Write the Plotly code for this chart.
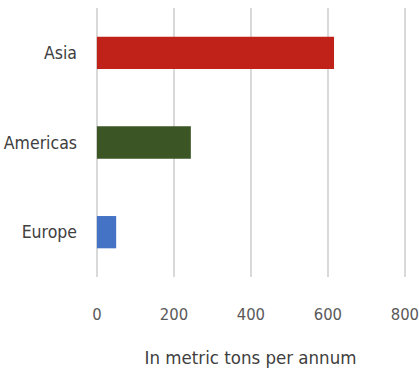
import plotly.graph_objects as go

regions = ["Europe", "Americas", "Asia"]
tons = [50, 244, 616]
colors = ["#4472C4", "#3B5525", "#C0221A"]
x_ticks = [0, 200, 400, 600, 800]

W, H = 419, 376
FONT = "'DejaVu Sans Condensed', 'Liberation Sans Narrow', 'Open Sans', sans-serif"

fig = go.Figure(
    go.Bar(
        x=tons,
        y=regions,
        orientation="h",
        marker=dict(color=colors, line=dict(width=0)),
        width=0.36,
    )
)

fig.update_layout(
    width=W,
    height=H,
    margin=dict(l=95, r=13, t=8, b=99, autoexpand=False),
    paper_bgcolor="white",
    plot_bgcolor="white",
    showlegend=False,
    font=dict(family=FONT, color="#404040"),
)

fig.update_xaxes(
    range=[-5, 803],
    tickvals=x_ticks,
    ticktext=[str(v) for v in x_ticks],
    showgrid=True,
    gridcolor="#D9D9D9",
    gridwidth=1.5,
    zeroline=False,
    showline=False,
    ticks="",
    automargin=False,
    ticklabeloverflow="allow",
    ticklabelstandoff=25,
    tickfont=dict(size=16.5, color="#595959"),
    title=dict(text="In metric tons per annum", font=dict(size=18.5, color="#404040"), standoff=28),
)

fig.update_yaxes(
    showgrid=False,
    zeroline=False,
    showline=False,
    ticks="",
    automargin=False,
    ticklabelstandoff=17,
    tickfont=dict(size=17.5, color="#404040"),
    range=[-0.5, 2.5],
)

fig.write_html("out.html")
